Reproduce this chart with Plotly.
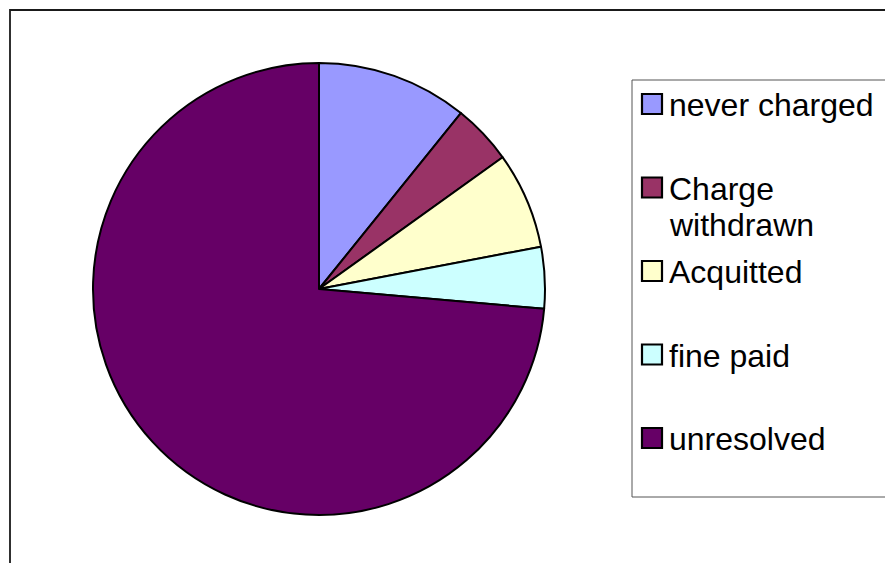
import plotly.graph_objects as go

labels = ["never charged", "Charge withdrawn", "Acquitted", "fine paid", "unresolved"]
values = [10.8, 4.3, 6.9, 4.4, 73.6]
colors = ["#9999FF", "#993366", "#FFFFCC", "#CCFFFF", "#660066"]

W, H = 893, 563
OFF = 8  # page body margin around the figure


def px_x(x):
    return (x - OFF) / W


def px_y(y):
    return 1 - (y - OFF) / H


fig = go.Figure()
fig.add_trace(go.Pie(
    labels=labels,
    values=values,
    sort=False,
    direction="clockwise",
    rotation=0,
    textinfo="none",
    marker=dict(colors=colors, line=dict(color="#000000", width=2)),
    domain=dict(x=[px_x(93), px_x(545)], y=[px_y(515), px_y(63)]),
    showlegend=False,
))

shapes = []
annotations = []
# outer chart frame (runs off the right and bottom edges)
shapes.append(dict(type="rect", xref="paper", yref="paper",
                   x0=px_x(10), x1=px_x(W + 40), y0=px_y(H + 40), y1=px_y(10),
                   line=dict(color="#1a1a1a", width=1.8), layer="below"))
# legend box
shapes.append(dict(type="rect", xref="paper", yref="paper",
                   x0=px_x(632), x1=px_x(W + 40), y0=px_y(497), y1=px_y(80),
                   line=dict(color="#555555", width=1), layer="below"))

font = dict(family="Liberation Sans, Arial, sans-serif", size=32, color="#000000")
y_top, step = 104, 83.5
for i, (lab, col) in enumerate(zip(labels, colors)):
    yc = y_top + i * step
    shapes.append(dict(type="rect", xref="paper", yref="paper",
                       x0=px_x(642), x1=px_x(662), y0=px_y(yc + 10), y1=px_y(yc - 10),
                       fillcolor=col, line=dict(color="#000000", width=2.2)))
    lines = lab.split(" ") if len(lab) > 14 else [lab]
    for j, line in enumerate(lines):
        annotations.append(dict(xref="paper", yref="paper", x=px_x(667),
                                y=px_y(yc + j * 36 + 1), text=line, showarrow=False,
                                xanchor="left", yanchor="middle", font=font))

fig.update_layout(
    width=W, height=H,
    margin=dict(l=0, r=0, t=0, b=0),
    paper_bgcolor="#FFFFFF",
    plot_bgcolor="#FFFFFF",
    shapes=shapes,
    annotations=annotations,
)

fig.write_html("out.html")
